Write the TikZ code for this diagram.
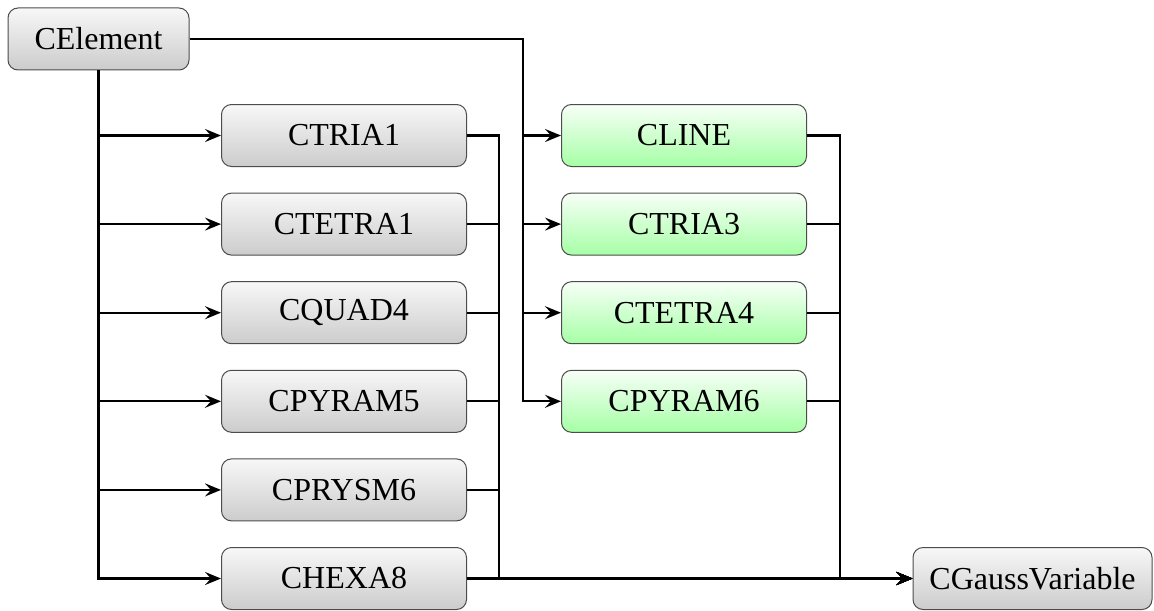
\documentclass[tikz,border=0pt]{standalone}
\usepackage{fontspec}
\setmainfont{Liberation Serif}
\usetikzlibrary{arrows.meta}
\tikzset{
  cbox/.style={draw=black!70, line width=0.5pt, rounded corners=5pt, minimum height=31pt, inner sep=2pt},
  greybox/.style={cbox, top color=black!3, bottom color=black!20, minimum width=122.5pt},
  greenbox/.style={cbox, top color=green!3, bottom color=green!35, minimum width=122.5pt},
  link/.style={->, line width=1.15pt},
}
\begin{document}
\begin{tikzpicture}[x=0.5pt, y=-0.5pt, font=\fontsize{16}{19}\selectfont, >={Stealth[length=8pt,width=6.5pt,inset=3pt]}]
 \useasboundingbox (0,0) rectangle (1154,610);
 \node[greybox, minimum width=90.5pt] (cel) at (98.5,39) {CElement};
 \node[greybox, minimum width=119.5pt] (gauss) at (1032.5,578.5) {CGaussVariable};
 \coordinate (inbus) at (523,39);
 \coordinate (outa) at (499,0);
 \coordinate (outb) at (840,0);
 % first column, fed from the bottom of CElement
 \foreach \name/\txt [count=\i from 0] in {ctria1/CTRIA1, ctetra1/CTETRA1, cquad4/CQUAD4, cpyram5/CPYRAM5, cprysm6/CPRYSM6, chexa8/CHEXA8}
 {
  \node[greybox] (\name) at (344,135.5+88.6*\i) {\txt};
  \draw[link] (cel.south) |- (\name.west);
  \draw[link] (\name.east) -- (\name.east -| outa) |- (gauss.west);
 }
 % second column, fed from the right of CElement
 \foreach \name/\txt [count=\i from 0] in {cline/CLINE, ctria3/CTRIA3, ctetra4/CTETRA4, cpyram6/CPYRAM6}
 {
  \node[greenbox] (\name) at (684,135.5+88.6*\i) {\txt};
  \draw[link] (cel.east) -- (inbus) |- (\name.west);
  \draw[link] (\name.east) -- (\name.east -| outb) |- (gauss.west);
 }
\end{tikzpicture}
\end{document}
